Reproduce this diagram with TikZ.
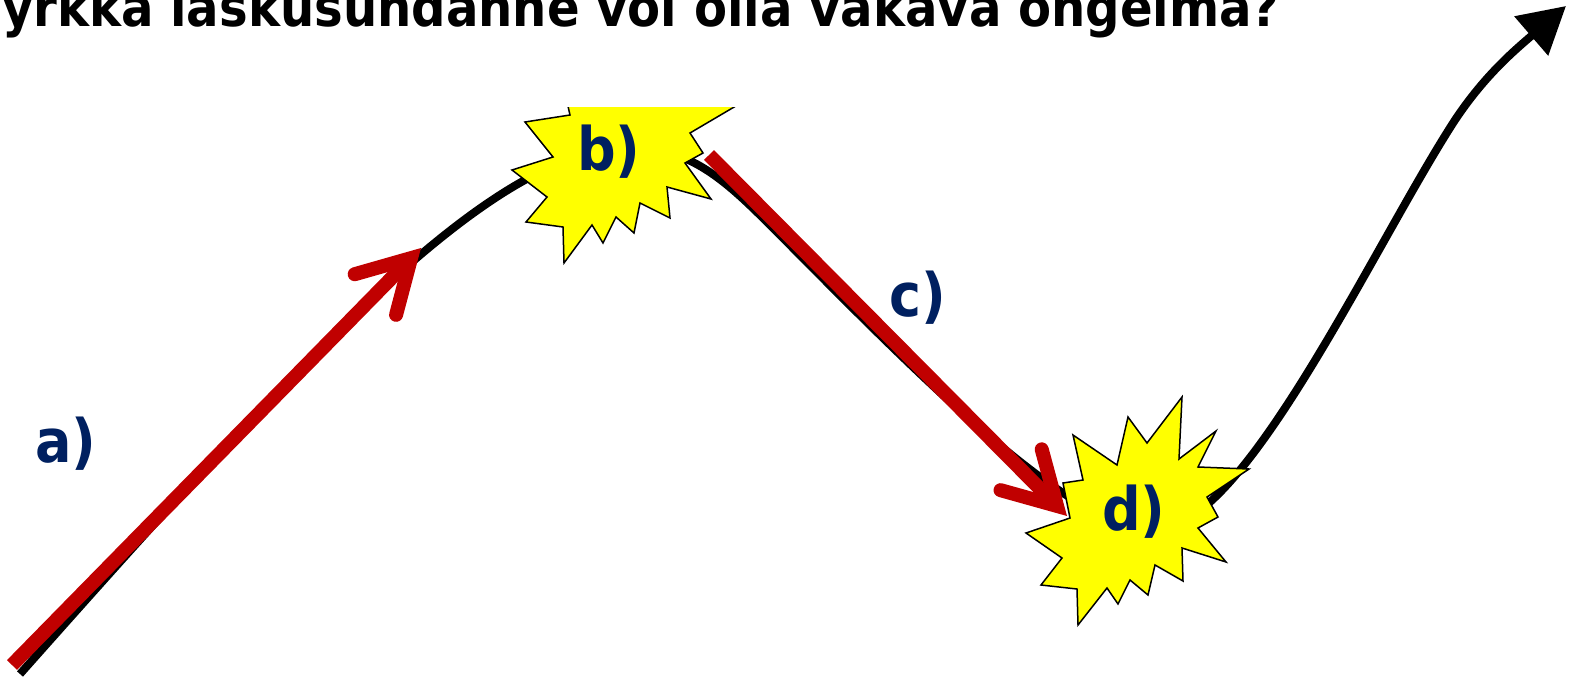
\documentclass[tikz,border=0pt]{standalone}
\usepackage{fontspec}
\usetikzlibrary{arrows.meta, positioning}
\newfontfamily\condfont{DejaVu Sans Condensed}
\definecolor{navy}{RGB}{0,32,96}
\definecolor{darkred}{RGB}{192,0,0}
\definecolor{burstyellow}{RGB}{255,255,0}
\tikzset{
    burst/.style={fill=burstyellow, draw=black, line width=1.5pt, line join=miter},
    tag/.style={inner sep=0pt, text=navy, font=\condfont\bfseries\fontsize{60}{62}\selectfont},
    heading/.style={inner sep=0pt, font=\condfont\bfseries\fontsize{53.5}{55}\selectfont},
    move/.style={draw=darkred, line width=14pt, line cap=butt, -{Straight Barb[length=51pt, width=58pt, line width=14pt, line cap=round, line join=miter]}},
    trend/.style={draw=black, line width=8pt, -{Triangle[length=46pt, width=50pt]}}
}

\begin{document}
\begin{tikzpicture}[x=1pt, y=-1pt]
    \useasboundingbox (0,0) rectangle (1577,680);
    \clip (0,0) rectangle (1577,680);

    \node[heading, anchor=base west] (title) at (2,26) {yrkkä laskusuhdanne voi olla vakava ongelma?};

    \coordinate (curve start) at (20,674);
    \coordinate (curve end) at (1566,6);
    \draw[trend] (curve start) .. controls (290,370) and (470,172) .. (605,150)
        .. controls (680,138) and (720,175) .. (770,225)
        .. controls (880,335) and (1060,525) .. (1140,525)
        .. controls (1170,525) and (1185,525) .. (1210,502)
        .. controls (1290,430) and (1390,220) .. (1455,120)
        .. controls (1485,75) and (1515,50) .. (curve end);

    \begin{scope}
        \clip (0,107) rectangle (1577,680);
        \draw[burst] (562,80) -- (570,115) -- (525,122) -- (553,157) -- (512,170) -- (547,197) -- (526,222) -- (563,227) -- (564,263) -- (592,225) -- (603,243) -- (616,217) -- (634,233) -- (640,203) -- (670,218) -- (667,187) -- (711,199) -- (685,163) -- (703,153) -- (690,133) -- (780,80) -- cycle;
    \end{scope}
    \draw[burst] (1182,397) -- (1179,459) -- (1216,431) -- (1198,467) -- (1249,469) -- (1207,497) -- (1218,517) -- (1198,528) -- (1226,562) -- (1182,548) -- (1183,581) -- (1155,565) -- (1148,595) -- (1130,580) -- (1118,604) -- (1107,588) -- (1078,625) -- (1077,589) -- (1041,585) -- (1062,558) -- (1026,533) -- (1070,518) -- (1063,483) -- (1083,480) -- (1073,435) -- (1117,465) -- (1128,417) -- (1147,443) -- cycle;

    \coordinate (a start) at (12,665);
    \coordinate (a end) at (421,248);
    \coordinate (c start) at (709,155);
    \coordinate (c end) at (1067,516);
    \draw[move] (a start) -- (a end);
    \draw[move] (c start) -- (c end);

    \node[tag, anchor=base west] (a) at (35,462) {a)};
    \node[tag, anchor=base west] (b) at (577,170) {b)};
    \node[tag, anchor=base west] (c) at (889,316) {c)};
    \node[tag, anchor=base west] (d) at (1102,530) {d)};
\end{tikzpicture}
\end{document}
